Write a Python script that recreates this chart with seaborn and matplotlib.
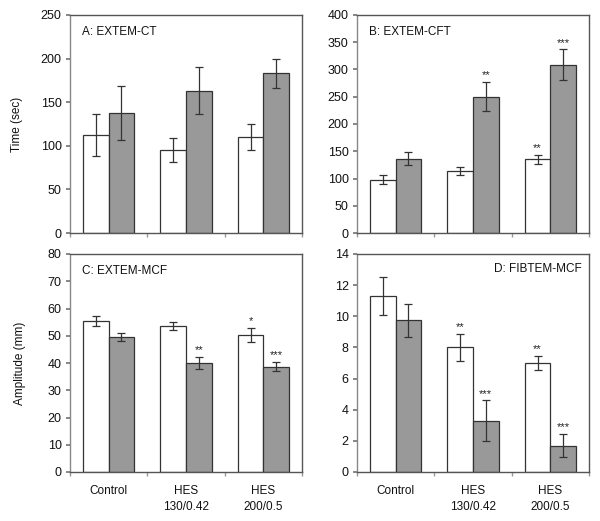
import matplotlib
matplotlib.use('Agg')
import matplotlib.pyplot as plt
import seaborn as sns
import numpy as np
import pandas as pd

groups = ['Control', 'HES\n130/0.42', 'HES\n200/0.5']
series = ['white', 'gray']

# A: EXTEM-CT
a_white = [112, 95, 110]
a_white_err = [24, 14, 15]
a_gray = [138, 163, 183]
a_gray_err = [31, 27, 17]
a_white_stars = ['', '', '']
a_gray_stars = ['', '', '']

# B: EXTEM-CFT
b_white = [98, 114, 135]
b_white_err = [9, 7, 8]
b_gray = [136, 250, 309]
b_gray_err = [12, 27, 28]
b_white_stars = ['', '', '**']
b_gray_stars = ['', '**', '***']

# C: EXTEM-MCF
c_white = [55.5, 53.7, 50.3]
c_white_err = [1.8, 1.5, 2.7]
c_gray = [49.5, 40.0, 38.7]
c_gray_err = [1.6, 2.3, 1.7]
c_white_stars = ['', '', '*']
c_gray_stars = ['', '**', '***']

# D: FIBTEM-MCF
d_white = [11.3, 8.0, 7.0]
d_white_err = [1.2, 0.85, 0.45]
d_gray = [9.75, 3.3, 1.7]
d_gray_err = [1.05, 1.3, 0.75]
d_white_stars = ['', '**', '**']
d_gray_stars = ['', '***', '***']

sns.set_theme(style='white')
plt.rcParams['font.family'] = ['Liberation Sans', 'DejaVu Sans']
plt.rcParams['text.color'] = '#111111'
plt.rcParams['axes.labelcolor'] = '#111111'
plt.rcParams['xtick.labelcolor'] = '#111111'
plt.rcParams['ytick.labelcolor'] = '#111111'

fig = plt.figure(figsize=(6, 5.21), dpi=100)
W, H = 600, 521
def box(l, t, r, b):
    return [l / W, 1 - b / H, (r - l) / W, (b - t) / H]

panels = [
    dict(rect=box(70, 15, 302, 233), title='A: EXTEM-CT', title_right=False,
         w=a_white, we=a_white_err, g=a_gray, ge=a_gray_err, ws=a_white_stars, gs=a_gray_stars,
         ylim=250, step=50, ylabel='Time (sec)', labx=-0.202, xlabels=False),
    dict(rect=box(357, 15, 589, 233), title='B: EXTEM-CFT', title_right=False,
         w=b_white, we=b_white_err, g=b_gray, ge=b_gray_err, ws=b_white_stars, gs=b_gray_stars,
         ylim=400, step=50, ylabel='', labx=-0.2, xlabels=False),
    dict(rect=box(70, 254, 302, 472), title='C: EXTEM-MCF', title_right=False,
         w=c_white, we=c_white_err, g=c_gray, ge=c_gray_err, ws=c_white_stars, gs=c_gray_stars,
         ylim=80, step=10, ylabel='Amplitude (mm)', labx=-0.19, xlabels=True),
    dict(rect=box(357, 254, 589, 472), title='D: FIBTEM-MCF', title_right=True,
         w=d_white, we=d_white_err, g=d_gray, ge=d_gray_err, ws=d_white_stars, gs=d_gray_stars,
         ylim=14, step=2, ylabel='', labx=-0.2, xlabels=True),
]

for p in panels:
    ax = fig.add_axes(p['rect'])
    df = pd.DataFrame({
        'group': groups * 2,
        'series': ['white'] * 3 + ['gray'] * 3,
        'value': p['w'] + p['g'],
    })
    sns.barplot(data=df, x='group', y='value', hue='series', order=groups,
                hue_order=series, palette={'white': 'white', 'gray': '#999999'},
                width=0.66, gap=0, errorbar=None, edgecolor='#333333',
                linewidth=0.9, legend=False, ax=ax)

    errs = p['we'] + p['ge']
    vals = p['w'] + p['g']
    stars = p['ws'] + p['gs']
    bars = ax.patches[:6]
    for bar, v, e, s in zip(bars, vals, errs, stars):
        xc = bar.get_x() + bar.get_width() / 2
        ax.errorbar(xc, v, yerr=e, fmt='none', ecolor='#333333', elinewidth=0.9,
                    capsize=3, capthick=0.9)
        if s:
            ax.text(xc, v + e + p['ylim'] * 0.008, s, ha='center', va='bottom',
                    fontsize=8, color='#222222')

    ax.set_xlim(-0.5, 2.5)
    ax.set_ylim(0, p['ylim'])
    ax.set_yticks(np.arange(0, p['ylim'] + p['step'] / 2, p['step']))
    ax.set_xlabel('')
    ax.set_ylabel(p['ylabel'], fontsize=8.5)
    ax.yaxis.set_label_coords(p['labx'], 0.5)
    ax.set_xticks(range(3))
    if p['xlabels']:
        ax.set_xticklabels(groups, fontsize=8.5, linespacing=1.55)
    else:
        ax.set_xticklabels([])
    ax.set_xticks([-0.5, 0.5, 1.5, 2.5], minor=True)
    ax.tick_params(axis='x', which='major', length=0, pad=9)
    ax.tick_params(axis='x', which='minor', bottom=True, length=3, color='#999999')
    ax.tick_params(axis='y', left=True, length=3, labelsize=9, color='#777777', pad=3)
    for side in ['top', 'right']:
        ax.spines[side].set_color('#555555')
        ax.spines[side].set_linewidth(1.0)
    ax.spines['left'].set_color('#888888')
    ax.spines['left'].set_linewidth(1.0)
    ax.spines['bottom'].set_color('#555555')
    ax.spines['bottom'].set_linewidth(1.0)

    if p['title_right']:
        ax.text(0.97, 0.93, p['title'], transform=ax.transAxes, ha='right', va='center', fontsize=8.5)
    else:
        ax.text(0.05, 0.92, p['title'], transform=ax.transAxes, ha='left', va='center', fontsize=8.5)

fig.savefig('out.png', dpi=100)
